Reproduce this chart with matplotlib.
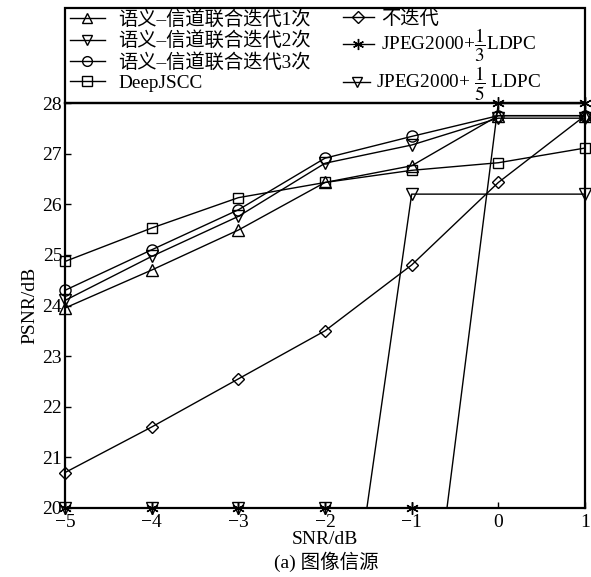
import matplotlib
matplotlib.use("Agg")
import matplotlib.pyplot as plt
from matplotlib.lines import Line2D
from matplotlib.patches import Rectangle
import numpy as np

plt.rcParams['font.family'] = ['Liberation Serif', 'Noto Sans CJK SC']
plt.rcParams['mathtext.fontset'] = 'stix'
plt.rcParams['axes.unicode_minus'] = True

snr = [-5, -4, -3, -2, -1, 0, 1]
iter1 = [23.95, 24.70, 25.49, 26.43, 26.76, 27.75, 27.75]
iter2 = [24.10, 24.97, 25.76, 26.81, 27.17, 27.70, 27.70]
iter3 = [24.30, 25.10, 25.89, 26.91, 27.34, 27.75, 27.75]
deepjscc = [24.87, 25.53, 26.13, 26.43, 26.67, 26.82, 27.11]
no_iter = [20.70, 21.60, 22.55, 23.50, 24.80, 26.43, 27.75]
snr_j13 = [-5, -4, -3, -2, -1, 0, 1]
jpeg_13 = [14.5, 14.5, 14.5, 14.5, 14.5, 28.0, 28.0]
snr_j15 = [-5, -4, -3, -2, -1, 1]
jpeg_15 = [14.2, 14.2, 14.2, 14.2, 26.2, 26.2]

labels = ['语义–信道联合迭代1次', '语义–信道联合迭代2次', '语义–信道联合迭代3次', 'DeepJSCC',
          '不迭代', r'JPEG2000+$\dfrac{1}{3}$LDPC', r'JPEG2000+ $\dfrac{1}{5}$ LDPC']
yticks = [20, 21, 22, 23, 24, 25, 26, 27, 28]
xticks = [-5, -4, -3, -2, -1, 0, 1]
xticklabels = ['−5', '−4', '−3', '−2', '−1', '0', '1']
YMIN, YMAX = 20, 28

W, H = 591, 577
fig = plt.figure(figsize=(W/100, H/100), dpi=100)
ax = fig.add_axes([65/W, 1-508/H, 520/W, 405/H])

lw = 1.0
ms = 8
common = dict(color='black', lw=lw, markersize=ms, markerfacecolor='none',
              markeredgecolor='black', markeredgewidth=1.0, clip_on=False)

ax.plot(snr, iter1, marker='^', **common)
ax.plot(snr, iter2, marker='v', **common)
ax.plot(snr, iter3, marker='o', **common)
ax.plot(snr, deepjscc, marker='s', **{**common, 'markersize': 7})
ax.plot(snr, no_iter, marker='D', **{**common, 'markersize': 6.5})

# JPEG curves: lines clipped to the axes, markers shown at the floor of the axis
ax.plot(snr_j13, jpeg_13, color='black', lw=lw, clip_on=True)
ax.plot(snr_j13[-2:], jpeg_13[-2:], color='black', lw=lw, clip_on=False)
ax.plot(snr_j13, np.clip(jpeg_13, YMIN, None), ls='none', marker=(6, 2, 0), color='black',
        markersize=9, markeredgewidth=1.0, clip_on=False)
ax.plot(snr_j15, jpeg_15, color='black', lw=lw, clip_on=True)
ax.plot(snr_j15, np.clip(jpeg_15, YMIN, None), ls='none', marker='v', markersize=ms,
        markerfacecolor='none', markeredgecolor='black', markeredgewidth=1.0, clip_on=False)

ax.set_xlim(-5, 1)
ax.set_ylim(YMIN, YMAX)
ax.set_xticks(xticks)
ax.set_yticks(yticks)
ax.set_xticklabels(xticklabels)
ax.tick_params(direction='in', length=4, width=1, labelsize=14)
ax.tick_params(axis='x', pad=4)
ax.tick_params(axis='y', pad=2)
for s in ax.spines.values():
    s.set_linewidth(1.6)

ax.set_xlabel('SNR/dB', fontsize=14, labelpad=0)
ax.set_ylabel('PSNR/dB', fontsize=14, labelpad=3)
fig.text(326/W, 1-562/H, '(a) 图像信源', ha='center', va='center', fontsize=14)

# legend frame
ax.add_patch(Rectangle((0, 1), 1, 95/405, transform=ax.transAxes, fill=False,
                       lw=1.6, edgecolor='black', clip_on=False))

def h(m, msz=7):
    return Line2D([], [], color='black', lw=lw, marker=m, markersize=msz,
                  markerfacecolor='none', markeredgecolor='black')

FS = 13.9
kw = dict(frameon=False, fontsize=FS, borderpad=0, borderaxespad=0,
          bbox_transform=fig.transFigure)

leg1 = fig.legend([h('^'), h('v'), h('o'), h('s', 6.5)], labels[:4], loc='upper left',
                  bbox_to_anchor=(70/W, 1-10/H), handlelength=1.8, handletextpad=0.7,
                  labelspacing=0.14, **kw)
leg2 = fig.legend([h('D', 6)], [labels[4]], loc='center left',
                  bbox_to_anchor=(343/W, 1-19/H), handlelength=1.6, handletextpad=0.35, **kw)
leg3 = fig.legend([Line2D([], [], color='black', lw=lw, marker=(6, 2, 0), markersize=8)],
                  [labels[5]], loc='center left', bbox_to_anchor=(343/W, 1-45/H),
                  handlelength=1.6, handletextpad=0.35, **kw)
leg4 = fig.legend([h('v')], [labels[6]], loc='center left', bbox_to_anchor=(343/W, 1-84/H),
                  handlelength=1.4, handletextpad=0.3, **kw)

fig.savefig('out.png', dpi=100)
